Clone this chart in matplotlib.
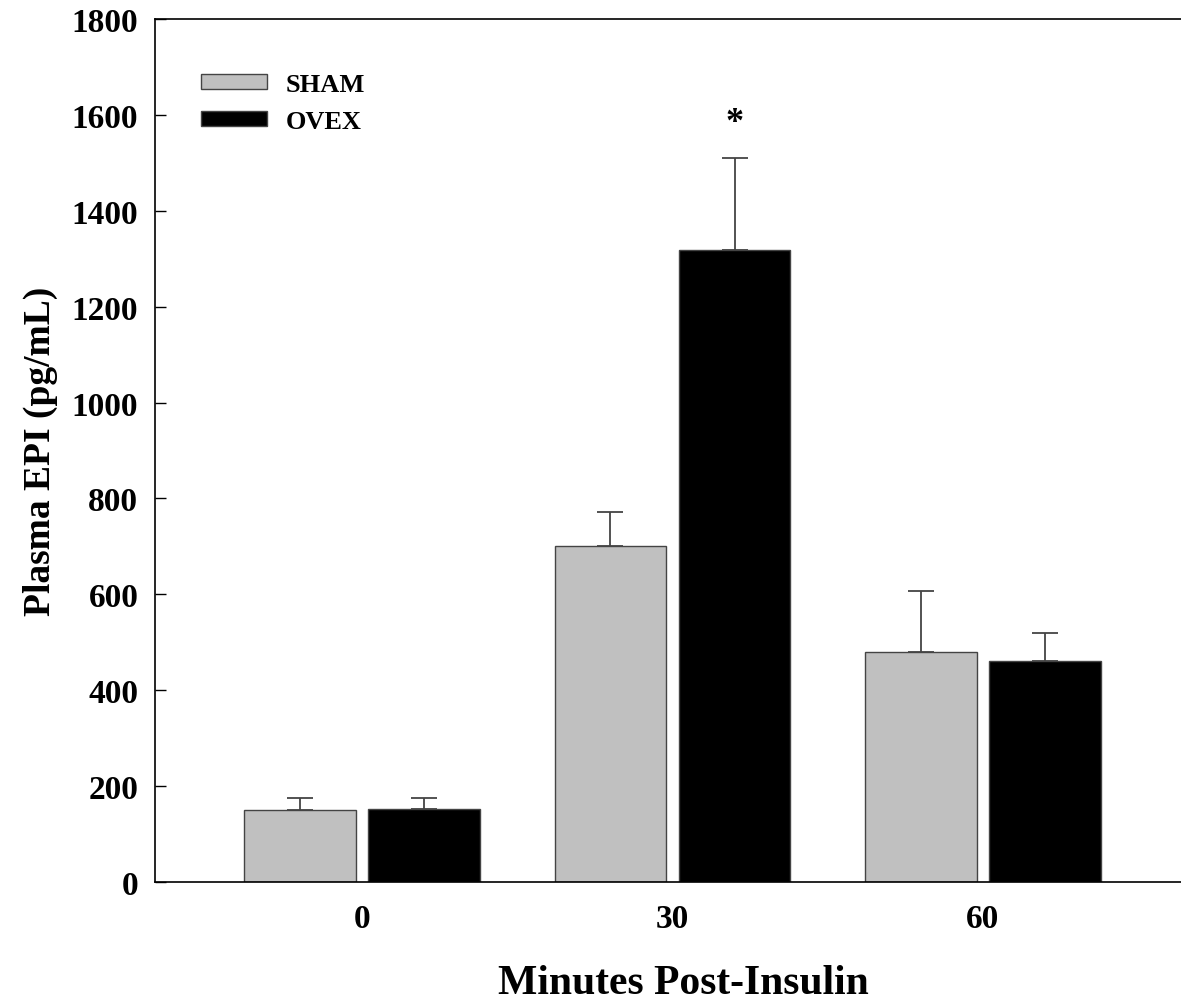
import matplotlib
matplotlib.use("Agg")
import matplotlib.pyplot as plt
import numpy as np

plt.rcParams['font.family'] = ['Liberation Serif', 'DejaVu Serif']
plt.rcParams['font.weight'] = 'bold'

categories = ['0', '30', '60']
sham = [151, 700, 479]
sham_err = [25, 71, 127]
ovex = [152, 1318, 460]
ovex_err = [24, 192, 59]
series_names = ['SHAM', 'OVEX']
yticks = [0, 200, 400, 600, 800, 1000, 1200, 1400, 1600, 1800]

fig = plt.figure(figsize=(11.81, 10.04), dpi=100)
ax = fig.add_axes([155/1181, 121/1004, 1 - 155/1181, (883-20)/1004])

x = np.arange(len(categories))
w = 0.36
off = 0.2
ax.bar(x - off, sham, w, color='#c0c0c0', edgecolor='#444444', linewidth=1.0, label=series_names[0], zorder=2)
ax.bar(x + off, ovex, w, color='black', edgecolor='#444444', linewidth=1.0, label=series_names[1], zorder=2)
ax.errorbar(x - off, sham, yerr=[np.zeros(3), sham_err], fmt='none', ecolor='#444444',
            elinewidth=1.3, capsize=9.7, capthick=1.3, zorder=1)
ax.errorbar(x + off, ovex, yerr=[np.zeros(3), ovex_err], fmt='none', ecolor='#444444',
            elinewidth=1.3, capsize=9.7, capthick=1.3, zorder=1)

ax.text(1 + off, 1585, '*', ha='center', va='center', fontsize=26, fontweight='bold')

ax.set_xlim(-0.667, 2.638)
ax.set_ylim(0, 1800)
ax.set_yticks(yticks)
ax.set_xticks(x)
ax.set_xticklabels(categories)
ax.tick_params(axis='y', direction='in', length=8, width=1, pad=12, labelsize=24)
ax.tick_params(axis='x', length=0, pad=15, labelsize=24)
for lab in ax.get_xticklabels() + ax.get_yticklabels():
    lab.set_fontweight('bold')

ax.spines['right'].set_visible(False)
for s in ['left', 'bottom', 'top']:
    ax.spines[s].set_linewidth(1.2)

ax.set_xlabel('Minutes Post-Insulin', fontsize=30, fontweight='bold', labelpad=22)
ax.xaxis.set_label_coords(0.515, -0.095)
ax.set_ylabel('Plasma EPI (pg/mL)', fontsize=27, fontweight='bold', labelpad=10)

leg = ax.legend(loc='upper left', bbox_to_anchor=(0.035, 0.95), frameon=False,
                prop={'weight': 'bold', 'size': 19}, handlelength=2.5, handleheight=0.5,
                handletextpad=0.7, labelspacing=0.55, borderaxespad=0)

fig.savefig('out.png', dpi=100)
